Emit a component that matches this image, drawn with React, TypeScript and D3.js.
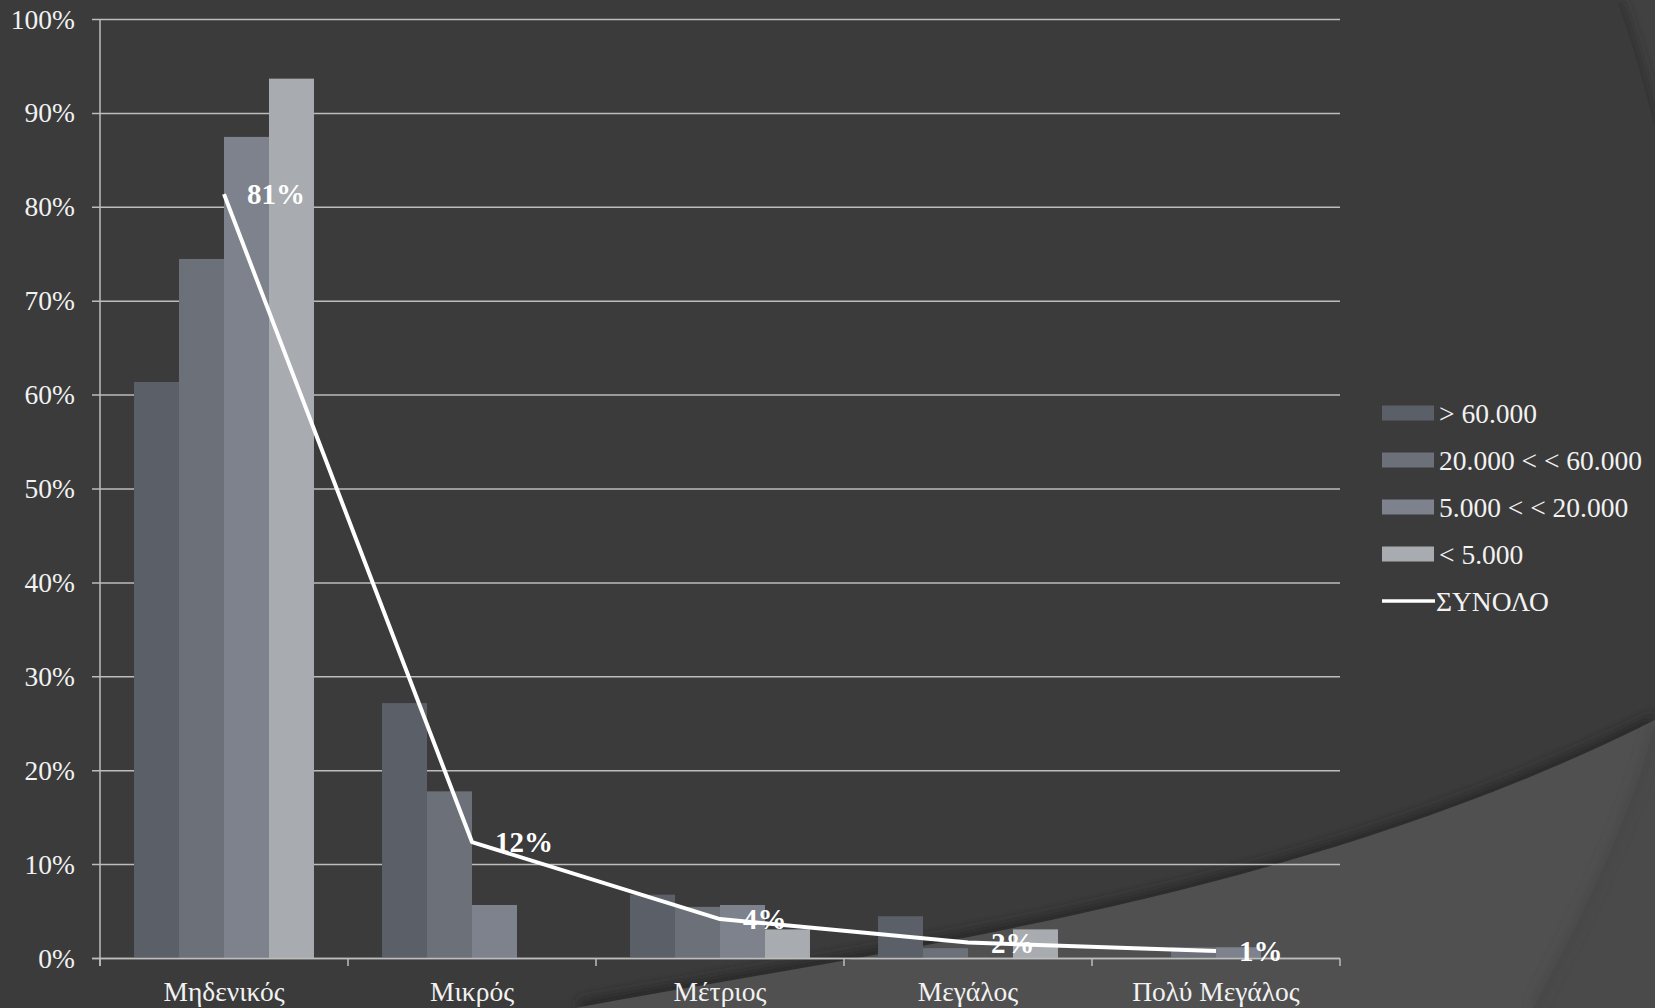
import { useMemo } from "react";
import * as d3 from "d3";

const W = 1655;
const H = 1008;

const categories = ["Μηδενικός", "Μικρός", "Μέτριος", "Μεγάλος", "Πολύ Μεγάλος"];
const seriesNames = ["> 60.000", "20.000 < < 60.000", "5.000 < < 20.000", "< 5.000"];
const seriesColors = ["#5b5f68", "#6c7079", "#7d828c", "#a8abb0"];

const over60 = [0.614, 0.272, 0.068, 0.045, 0];
const from20to60 = [0.745, 0.178, 0.055, 0.011, 0.012];
const from5to20 = [0.875, 0.057, 0.057, 0, 0.012];
const under5 = [0.937, 0, 0.031, 0.031, 0];
const total = [0.814, 0.124, 0.042, 0.017, 0.008];
const totalName = "ΣΥΝΟΛΟ";

const yTicks = d3.range(0, 11).map((i) => i / 10);

const FONT = "'Liberation Serif', 'Times New Roman', serif";

export default function App() {
  const plot = { left: 100, right: 1340, top: 19.5, bottom: 958.5 };

  const x = useMemo(
    () => d3.scaleBand<string>().domain(categories).range([plot.left, plot.right]).padding(0),
    []
  );
  const xInner = useMemo(
    () => d3.scaleBand<string>().domain(seriesNames).range([0, x.bandwidth()]).paddingInner(0).paddingOuter(0.756),
    [x]
  );
  const y = useMemo(() => d3.scaleLinear().domain([0, 1]).range([plot.bottom, plot.top]), []);

  const seriesValues = [over60, from20to60, from5to20, under5];
  const pct = d3.format(".0%");
  const yFmt = d3.format(".0%");

  const line = d3
    .line<number>()
    .x((_, i) => (x(categories[i]) ?? 0) + x.bandwidth() / 2)
    .y((d) => y(d));

  const edges = [...categories.map((c) => x(c) ?? 0), plot.right];

  // legend
  const legendX = 1382;
  const legendRows = [413, 460, 507, 554, 601];

  return (
    <svg
      width={W}
      height={H}
      style={{ position: "fixed", left: 0, top: 0, display: "block" }}
      fontFamily={FONT}
    >
      <defs>
        <filter id="soft" x="-20%" y="-20%" width="140%" height="140%">
          <feGaussianBlur stdDeviation="6" />
        </filter>
        <clipPath id="darkSide">
          <path d="M0,0 L1655,0 L1655,722 C1300,900 900,950 580,1008 L0,1008 Z" />
        </clipPath>
        <clipPath id="topRight">
          <path d="M1617,0 Q1642,72 1655,130 L1655,0 Z" />
        </clipPath>
      </defs>

      {/* background */}
      <rect width={W} height={H} fill="#3b3b3b" />
      <path d="M1617,0 Q1642,72 1655,130 L1655,0 Z" fill="#414141" />
      <path
        d="M1617,0 Q1642,72 1655,130"
        fill="none"
        stroke="#2c2c2c"
        strokeWidth={8}
        filter="url(#soft)"
        clipPath="url(#topRight)"
      />
      <path
        d="M580,1008 C900,950 1300,900 1655,722"
        fill="none"
        stroke="#262626"
        strokeWidth={14}
        filter="url(#soft)"
        clipPath="url(#darkSide)"
      />
      <path d="M575,1008 C900,948 1300,898 1655,720 L1655,1008 Z" fill="#505050" />
      <path d="M1655,724 Q1626,838 1533,1008 L1655,1008 Z" fill="#4a4a4a" />
      <path
        d="M1655,724 Q1626,838 1533,1008"
        fill="none"
        stroke="#444"
        strokeWidth={6}
        filter="url(#soft)"
      />

      {/* gridlines and y ticks */}
      {yTicks.map((t) => (
        <g key={t}>
          <line
            x1={92}
            x2={plot.right}
            y1={y(t)}
            y2={y(t)}
            stroke="#bdbdbd"
            strokeWidth={1.5}
          />
          <text
            x={75}
            y={y(t)}
            dy="0.33em"
            textAnchor="end"
            fontSize={27.5}
            fill="#f2f2f2"
          >
            {yFmt(t)}
          </text>
        </g>
      ))}

      {/* bars */}
      {seriesValues.map((vals, s) => (
        <g key={seriesNames[s]} fill={seriesColors[s]}>
          {vals.map((v, i) =>
            v > 0 ? (
              <rect
                key={categories[i]}
                x={(x(categories[i]) ?? 0) + (xInner(seriesNames[s]) ?? 0)}
                y={y(v)}
                width={xInner.bandwidth()}
                height={y(0) - y(v)}
              />
            ) : null
          )}
        </g>
      ))}

      {/* axes */}
      <line x1={plot.left} x2={plot.left} y1={plot.top} y2={966} stroke="#bdbdbd" strokeWidth={1.5} />
      <line x1={92} x2={plot.right} y1={y(0)} y2={y(0)} stroke="#bdbdbd" strokeWidth={1.5} />
      {edges.map((ex, i) => (
        <line key={i} x1={ex} x2={ex} y1={y(0)} y2={966} stroke="#bdbdbd" strokeWidth={1.5} />
      ))}
      {categories.map((c) => (
        <text
          key={c}
          x={(x(c) ?? 0) + x.bandwidth() / 2}
          y={1001}
          textAnchor="middle"
          fontSize={27.5}
          fill="#f2f2f2"
        >
          {c}
        </text>
      ))}

      {/* total line */}
      <path d={line(total) ?? ""} fill="none" stroke="#ffffff" strokeWidth={4} strokeLinejoin="round" />
      {total.map((v, i) => (
        <text
          key={i}
          x={(x(categories[i]) ?? 0) + x.bandwidth() / 2 + 23}
          y={y(v)}
          dy="0.35em"
          fontSize={29}
          fontWeight="bold"
          fill="#ffffff"
        >
          {pct(v)}
        </text>
      ))}

      {/* legend */}
      {seriesNames.map((name, s) => (
        <g key={name}>
          <rect x={legendX} y={legendRows[s] - 7.5} width={52} height={15} fill={seriesColors[s]} />
          <text x={1439} y={legendRows[s]} dy="0.35em" fontSize={27.5} fill="#f2f2f2">
            {name}
          </text>
        </g>
      ))}
      <line
        x1={legendX}
        x2={legendX + 53}
        y1={legendRows[4]}
        y2={legendRows[4]}
        stroke="#ffffff"
        strokeWidth={3.5}
      />
      <text x={1436} y={legendRows[4]} dy="0.35em" fontSize={27.5} fill="#f2f2f2">
        {totalName}
      </text>
    </svg>
  );
}
